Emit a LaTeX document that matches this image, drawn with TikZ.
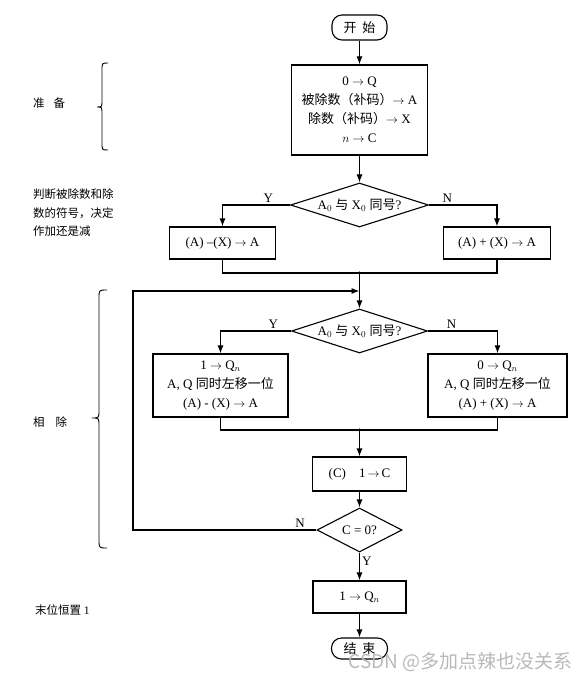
\documentclass[tikz,border=0pt]{standalone}
\usepackage{fontspec}
\setmainfont{Liberation Serif}
\newfontfamily\cjk{Noto Sans CJK SC}
\usetikzlibrary{shapes.geometric,arrows.meta}
\begin{document}
\begin{tikzpicture}[x=1pt,y=-1pt,
  every node/.style={font=\fontsize{13}{19}\selectfont},
  flow/.style={line width=1.1pt},
  arr/.style={flow,-{Latex[length=8pt,width=6pt]}},
  boxn/.style={draw,line width=1.1pt,rectangle,inner sep=0pt,align=center},
  dia/.style={draw,line width=1.1pt,diamond,aspect=3.2,inner sep=0pt},
  term/.style={draw,line width=1.1pt,rectangle,rounded corners=10pt,inner sep=0pt},
  lab/.style={inner sep=2pt},
  side/.style={font=\cjk\fontsize{11.5}{18.6}\selectfont,align=left,inner sep=0pt},
  brace/.style={line width=0.9pt}
]
\useasboundingbox (0,0) rectangle (587,682);

% main column
\node[term, minimum width=55, minimum height=25] (start) at (359.5,27.5) {{\cjk 开\hspace{6pt}始}};
\node[boxn, minimum width=136, minimum height=90] (b1) at (359.5,110) {0 $\rightarrow$ Q\\{\cjk 被除数（补码）}$\rightarrow$ A\\{\cjk 除数（补码）}$\rightarrow$ X\\$n\rightarrow$ C};
\node[dia, minimum width=138, minimum height=44] (d1) at (359.5,205) {A$_0$ {\cjk 与} X$_0$ {\cjk 同号}?};
\node[boxn, minimum width=106, minimum height=32] (l1) at (222.5,243) {(A) –(X) $\rightarrow$ A};
\node[boxn, minimum width=107, minimum height=32] (r1) at (497,243) {(A) + (X) $\rightarrow$ A};
\coordinate (j1) at (359.5,273);
\coordinate (m1) at (359.5,291);
\coordinate (lc) at (133,291);
\node[dia, minimum width=136, minimum height=44] (d2) at (359.5,331) {A$_0$ {\cjk 与} X$_0$ {\cjk 同号}?};
\node[boxn, minimum width=135, minimum height=63] (l2) at (220.5,385.5) {1 $\rightarrow$ Q$_n$\\A, Q {\cjk 同时左移一位}\\(A) - (X) $\rightarrow$ A};
\node[boxn, minimum width=139, minimum height=63] (r2) at (497.5,385.5) {0 $\rightarrow$ Q$_n$\\A, Q {\cjk 同时左移一位}\\(A) + (X) $\rightarrow$ A};
\coordinate (j2) at (359.5,430);
\node[boxn, minimum width=94, minimum height=34] (b3) at (359.5,474) {(C)\quad 1$\,\rightarrow$\,C};
\node[dia, minimum width=85, minimum height=44] (d3) at (359.5,530) {C = 0?};
\node[boxn, minimum width=93, minimum height=32] (b4) at (359.5,597) {1 $\rightarrow$ Q$_n$};
\node[term, minimum width=56, minimum height=21] (stop) at (359.5,648.5) {{\cjk 结\hspace{6pt}束}};

% connectors
\draw[arr] (start) -- (b1);
\draw[arr] (b1) -- (d1);
\draw[arr] (d1.west) -| node[lab,pos=0.16,above]{Y} (l1.north);
\draw[arr] (d1.east) -| node[lab,pos=0.135,above]{N} (r1.north);
\draw[flow] (l1.south) |- (j1);
\draw[flow] (r1.south) |- (j1);
\fill (j1) circle (1.6pt);
\draw[arr] (j1) -- (d2.north);
\draw[arr] (d2.west) -| node[lab,pos=0.125,above]{Y} (l2.north);
\draw[arr] (d2.east) -| node[lab,pos=0.17,above]{N} (r2.north);
\draw[flow] (l2.south) |- (j2);
\draw[flow] (r2.south) |- (j2);
\fill (j2) circle (1.6pt);
\draw[arr] (j2) -- (b3);
\draw[arr] (b3) -- (d3);
\draw[arr] (d3.west) -| node[lab,pos=0.045,above]{N} (lc) -- (m1);
\draw[arr] (d3.south) -- node[lab,pos=0.32,right]{Y} (b4.north);
\draw[arr] (b4) -- (stop);

% side annotations
\node[side, anchor=west] (t1) at (33,103) {准\hspace{9pt}备};
\draw[brace] (108,63) .. controls (102,63) and (102,63) .. (102,70) -- (102,100)
  .. controls (102,107) and (102,107) .. (97,107) .. controls (102,107) and (102,107) .. (102,114)
  -- (102,143) .. controls (102,150) and (102,150) .. (108,150);
\node[side, anchor=west] (t2) at (33,213) {判断被除数和除\\数的符号，决定\\作加还是减};
\node[side, anchor=west] (t3) at (33,422) {相\hspace{11pt}除};
\draw[brace] (107,290) .. controls (99,290) and (99,290) .. (99,298) -- (99,410)
  .. controls (99,418) and (99,418) .. (92,418) .. controls (99,418) and (99,418) .. (99,426)
  -- (99,540) .. controls (99,548) and (99,548) .. (107,548);
\node[side, anchor=west] (t4) at (35,610) {末位恒置 {\rmfamily 1}};

% watermark
\node[font=\cjk\fontsize{19}{19}\selectfont, text=gray!55, anchor=east, inner sep=0pt] (wm) at (573,662) {CSDN @多加点辣也没关系};
\end{tikzpicture}
\end{document}
